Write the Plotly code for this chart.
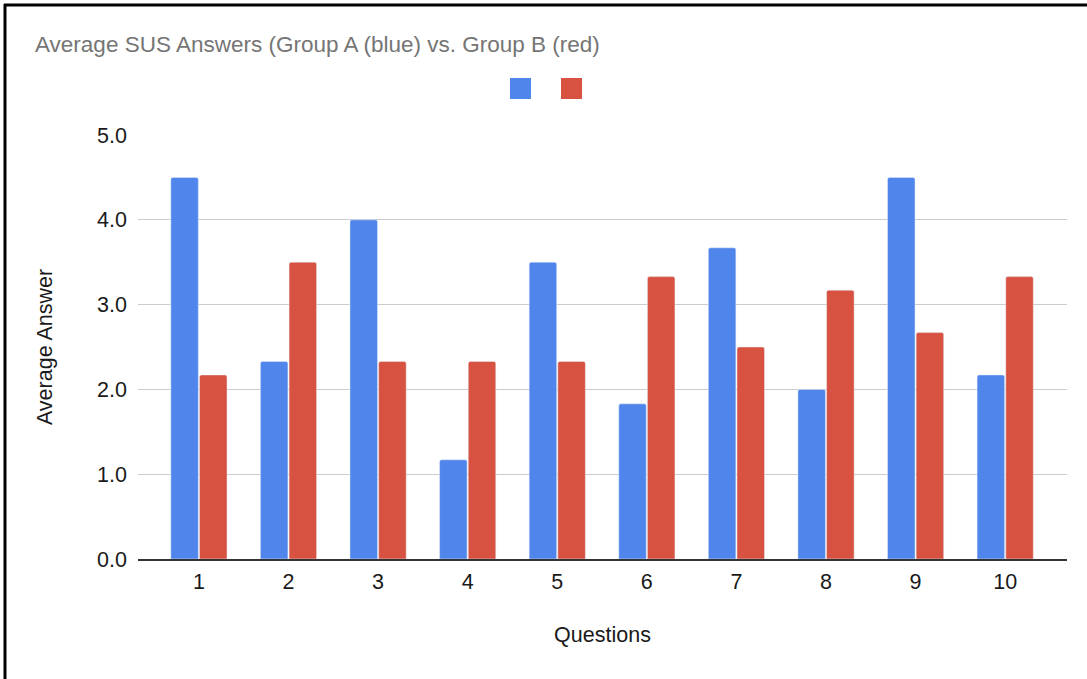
import plotly.graph_objects as go

questions = [1, 2, 3, 4, 5, 6, 7, 8, 9, 10]
group_a = [4.5, 2.33, 4.0, 1.17, 3.5, 1.83, 3.67, 2.0, 4.5, 2.17]
group_b = [2.17, 3.5, 2.33, 2.33, 2.33, 3.33, 2.5, 3.17, 2.67, 3.33]
y_ticks = [0, 1, 2, 3, 4, 5]

W, H = 1087, 679
L, R, T, B = 138, 20, 135, 120
pw, ph = W - L - R, H - T - B

def px(x):
    return (x - L) / pw

def py(y):
    return (H - B - y) / ph

blue = "#5086EC"
red = "#D85241"

fig = go.Figure()
fig.add_trace(go.Bar(x=questions, y=group_a, marker=dict(color=blue, cornerradius=2), name="Group A"))
fig.add_trace(go.Bar(x=questions, y=group_b, marker=dict(color=red, cornerradius=2), name="Group B"))

shapes = [
    # legend squares
    dict(type="rect", xref="paper", yref="paper", x0=px(510), x1=px(531), y0=py(99), y1=py(78),
         fillcolor=blue, line=dict(width=0)),
    dict(type="rect", xref="paper", yref="paper", x0=px(561), x1=px(582), y0=py(99), y1=py(78),
         fillcolor=red, line=dict(width=0)),
    # screenshot frame (top and left)
    dict(type="line", xref="paper", yref="paper", x0=px(4), x1=px(1090), y0=py(5), y1=py(5),
         line=dict(color="black", width=3)),
    dict(type="line", xref="paper", yref="paper", x0=px(5), x1=px(5), y0=py(4), y1=py(685),
         line=dict(color="black", width=3)),
]

fig.update_layout(
    width=W, height=H,
    margin=dict(l=L, r=R, t=T, b=B),
    paper_bgcolor="white", plot_bgcolor="white",
    font=dict(family="Liberation Sans, Arial, sans-serif", size=21.5, color="#1A1A1A"),
    title=dict(text="Average SUS Answers (Group A (blue) vs. Group B (red)",
               x=35 / W, xref="container", xanchor="left",
               y=1 - 44 / H, yref="container", yanchor="middle",
               font=dict(size=22.5, color="#757575")),
    showlegend=False,
    barmode="group", bargap=0.36, bargroupgap=0.04,
    shapes=shapes,
    xaxis=dict(range=[0.32, 10.69], tickmode="array", tickvals=questions,
               ticktext=[str(q) for q in questions], showgrid=False,
               showline=True, linecolor="#333333", linewidth=1.5, ticks="",
               ticklabelstandoff=2,
               title=dict(text="Questions", standoff=34, font=dict(size=21.5, color="#1A1A1A")),
               zeroline=False, fixedrange=True),
    yaxis=dict(range=[0, 5], tickmode="array", tickvals=y_ticks,
               ticktext=[f"{v:.1f}" for v in y_ticks], showgrid=True,
               gridcolor="#CCCCCC", gridwidth=1, zeroline=False, ticks="",
               ticklabelstandoff=10,
               title=dict(text="Average Answer", standoff=38, font=dict(size=21.5, color="#1A1A1A"))),
)

fig.write_html("out.html", config={"displayModeBar": False})

with open("out.html", "r", encoding="utf-8") as f:
    html = f.read()
html = html.replace("<head>", "<head><style>html,body{margin:0;padding:0;}</style>", 1)
with open("out.html", "w", encoding="utf-8") as f:
    f.write(html)
